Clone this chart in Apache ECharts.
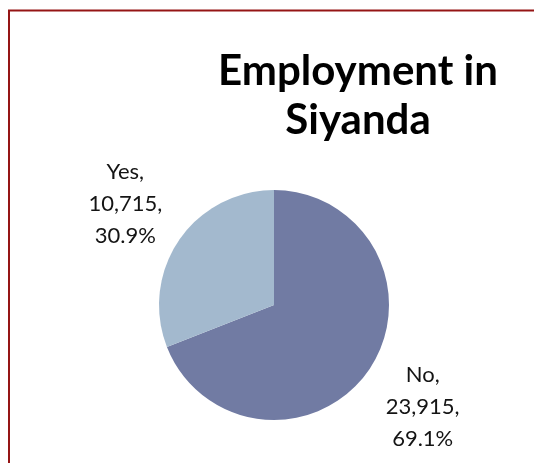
<!DOCTYPE html>
<html>
<head>
<meta charset="utf-8">
<script src="https://cdn.jsdelivr.net/npm/echarts@6/dist/echarts.min.js"></script>
<style>
  html, body { margin: 0; padding: 0; background: #fff; }
  #chart { width: 534px; height: 463px; }
</style>
</head>
<body>
<div id="chart"></div>
<script>
// Employment status counts for Siyanda
const categories = ['No', 'Yes'];
const counts = [23915, 10715];
const sliceColors = ['#717BA3', '#A3B9CE'];
const titleText = 'Employment in\nSiyanda';

const CX = 274, CY = 305, R = 115, LABEL_R = 180;

const chart = echarts.init(document.getElementById('chart'), null, { renderer: 'canvas' });

chart.setOption({
  backgroundColor: '#ffffff',
  animation: false,
  title: {
    text: titleText,
    left: 353,
    top: 42,
    textAlign: 'center',
    textStyle: {
      fontFamily: 'Lato',
      fontWeight: 'bold',
      fontSize: 42,
      lineHeight: 49,
      color: '#000000'
    }
  },
  graphic: [{
    type: 'rect',
    shape: { x: 9, y: 10.5, width: 700, height: 700 },
    style: { fill: null, stroke: '#951515', lineWidth: 2 },
    silent: true
  }],
  series: [{
    type: 'pie',
    center: [CX, CY],
    radius: [0, R],
    startAngle: 90,
    clockwise: true,
    percentPrecision: 1,
    label: {
      show: true,
      position: 'outside',
      fontFamily: 'Lato',
      fontSize: 22,
      lineHeight: 32,
      color: '#141414',
      formatter: p => p.name + ',\n' + p.value.toLocaleString('en-US') + ',\n' + p.percent.toFixed(1) + '%'
    },
    labelLine: { show: false },
    labelLayout: params => {
      const p0 = params.labelLinePoints[0];
      const k = LABEL_R / R;
      return {
        x: CX + (p0[0] - CX) * k,
        y: CY + (p0[1] - CY) * k,
        align: 'center',
        verticalAlign: 'middle'
      };
    },
    itemStyle: { borderWidth: 0 },
    data: categories.map((c, i) => ({
      name: c,
      value: counts[i],
      itemStyle: { color: sliceColors[i] }
    }))
  }]
});
</script>
</body>
</html>
